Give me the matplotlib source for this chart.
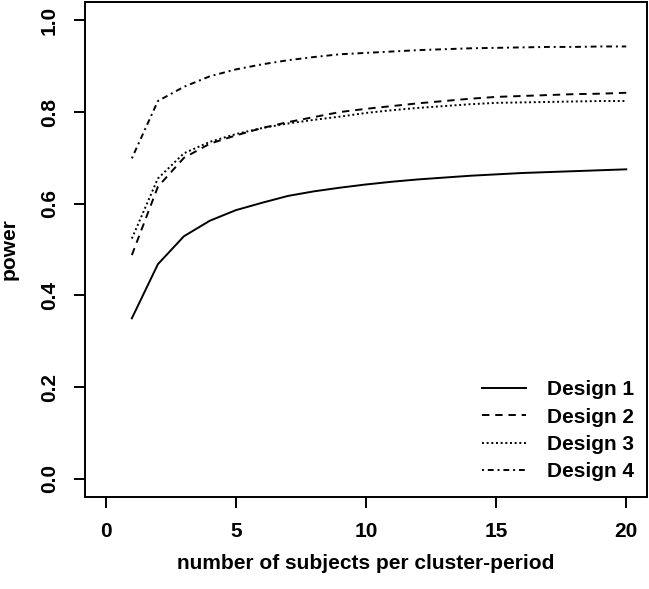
import numpy as np
import matplotlib
matplotlib.use("Agg")
import matplotlib.pyplot as plt

plt.rcParams['font.family'] = ['Liberation Sans', 'DejaVu Sans']
plt.rcParams['font.weight'] = 'bold'
plt.rcParams['axes.labelweight'] = 'bold'

# jumlah subjek per cluster-period
n = [1, 2, 3, 4, 5, 6, 7, 8, 9, 10, 11, 12, 13, 14, 15, 16, 17, 18, 19, 20]

# nilai power tiap desain
design1 = [0.350, 0.468, 0.529, 0.563, 0.586, 0.602, 0.617, 0.627, 0.635, 0.642,
           0.648, 0.653, 0.657, 0.661, 0.664, 0.667, 0.669, 0.671, 0.673, 0.675]
design2 = [0.488, 0.637, 0.700, 0.731, 0.749, 0.765, 0.778, 0.789, 0.800, 0.807,
           0.813, 0.819, 0.824, 0.829, 0.833, 0.835, 0.837, 0.839, 0.840, 0.842]
design3 = [0.524, 0.655, 0.710, 0.735, 0.752, 0.765, 0.775, 0.783, 0.790, 0.798,
           0.804, 0.809, 0.813, 0.817, 0.820, 0.821, 0.822, 0.823, 0.824, 0.824]
design4 = [0.699, 0.824, 0.855, 0.878, 0.893, 0.904, 0.913, 0.920, 0.926, 0.929,
           0.932, 0.935, 0.937, 0.939, 0.940, 0.941, 0.942, 0.942, 0.943, 0.943]

labels = ["Design 1", "Design 2", "Design 3", "Design 4"]

fig = plt.figure(figsize=(6.49, 5.89), dpi=100)
ax = fig.add_axes([0.131, 0.156, 0.866, 0.8406])

lw = 1.4
ax.plot(n, design1, color='black', lw=lw, linestyle='-', label=labels[0])
ax.plot(n, design2, color='black', lw=lw, linestyle=(0, (3.8, 3)), label=labels[1])
ax.plot(n, design3, color='black', lw=lw, linestyle=(0, (1, 1.4)), label=labels[2])
ax.plot(n, design4, color='black', lw=lw, linestyle=(0, (1, 2, 3, 2)), label=labels[3])

ax.set_xlim(-0.8, 20.8)
ax.set_ylim(-0.04, 1.04)
ax.set_xticks([0, 5, 10, 15, 20])
ax.set_yticks([0.0, 0.2, 0.4, 0.6, 0.8, 1.0])
ax.set_yticklabels(["0.0", "0.2", "0.4", "0.6", "0.8", "1.0"], rotation=90, va='center')

ax.tick_params(direction='out', length=8, width=1.4, labelsize=15)
ax.tick_params(axis='x', pad=10)
ax.tick_params(axis='y', pad=11)
for s in ax.spines.values():
    s.set_linewidth(1.4)

ax.set_xlabel("number of subjects per cluster-period", fontsize=15, labelpad=9)
ax.set_ylabel("power", fontsize=15, labelpad=15)

ax.legend(loc='lower right', bbox_to_anchor=(0.995, 0.011), frameon=False,
          fontsize=15, handlelength=2.1, labelspacing=0.4, handletextpad=1.0,
          borderpad=0.0)

fig.savefig("out.png", dpi=100)
